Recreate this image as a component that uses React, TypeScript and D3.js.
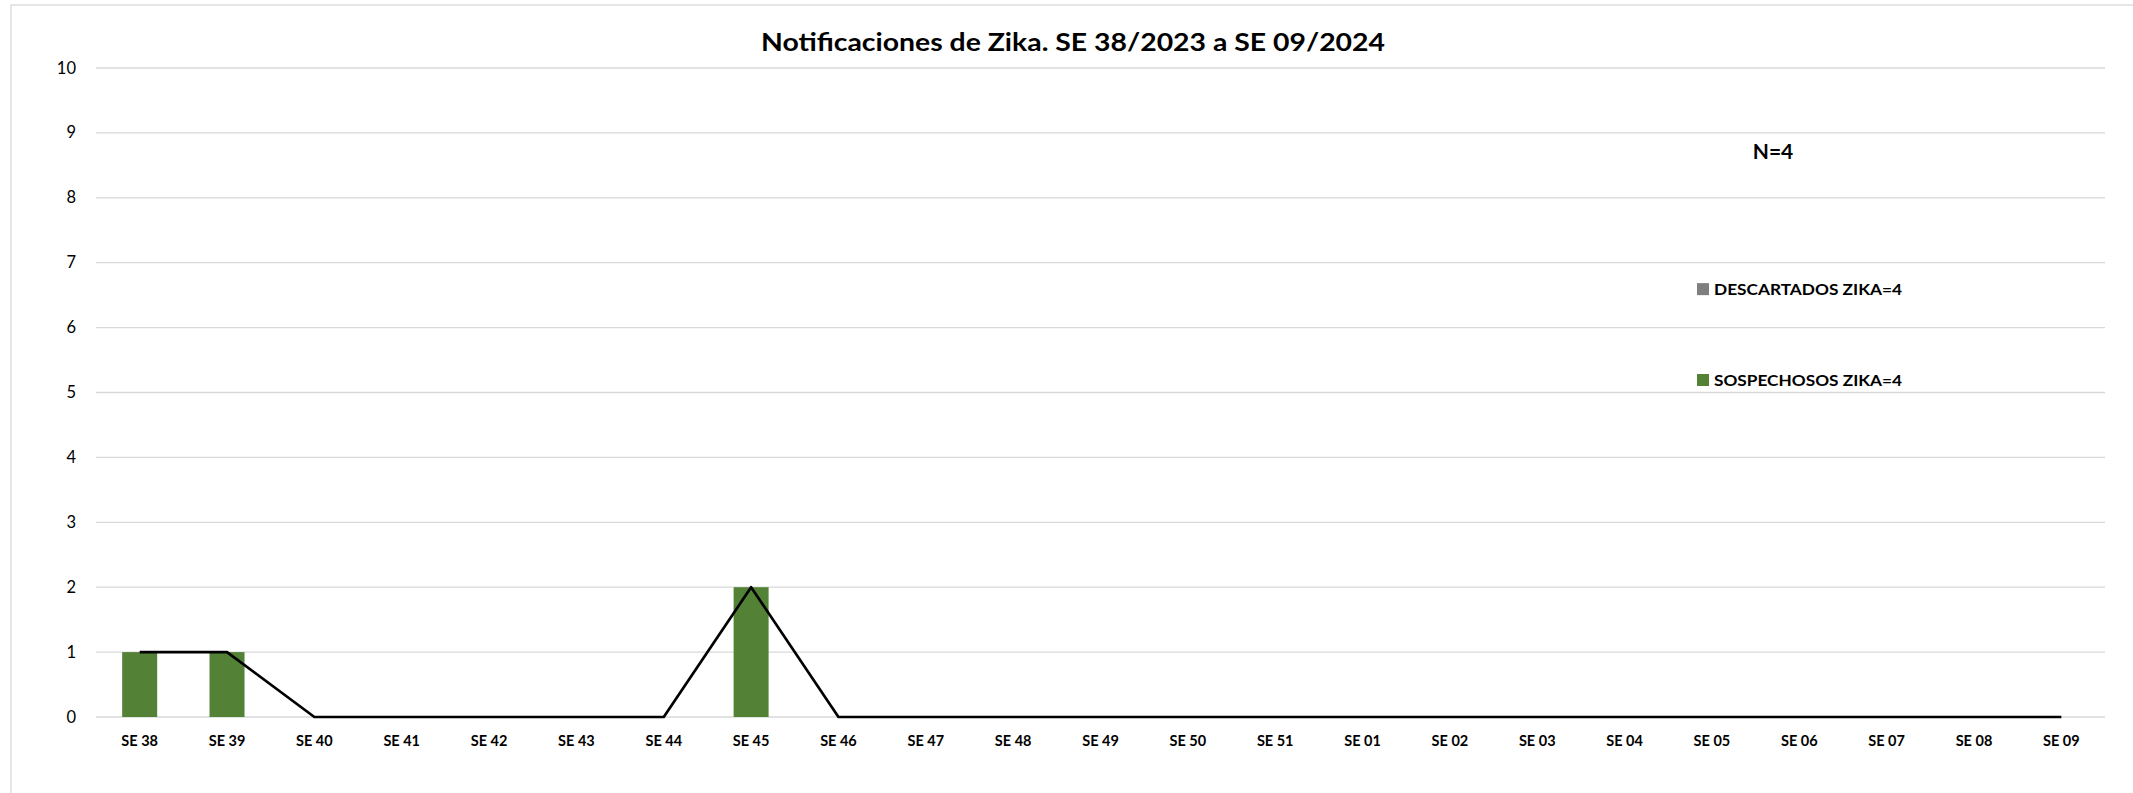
import React from "react";
import { scaleBand, scaleLinear, line } from "d3";

const weeks = [
  "SE 38", "SE 39", "SE 40", "SE 41", "SE 42", "SE 43", "SE 44", "SE 45",
  "SE 46", "SE 47", "SE 48", "SE 49", "SE 50", "SE 51", "SE 01", "SE 02",
  "SE 03", "SE 04", "SE 05", "SE 06", "SE 07", "SE 08", "SE 09",
];
// bars: sospechosos
const sospechosos = [1, 1, 0, 0, 0, 0, 0, 2, 0, 0, 0, 0, 0, 0, 0, 0, 0, 0, 0, 0, 0, 0, 0];
// black line: total notifications
const total = [1, 1, 0, 0, 0, 0, 0, 2, 0, 0, 0, 0, 0, 0, 0, 0, 0, 0, 0, 0, 0, 0, 0];
const yTicks = [0, 1, 2, 3, 4, 5, 6, 7, 8, 9, 10];
const legendItems = [
  { label: "DESCARTADOS ZIKA=4", color: "#7f7f7f", value: 6.5 },
  { label: "SOSPECHOSOS ZIKA=4", color: "#538135", value: 5.1 },
];

const W = 2133;
const H = 793;
const font = "Lato, 'Open Sans', sans-serif";

export default function App() {
  const x = scaleBand<string>().domain(weeks).range([96, 2105]).paddingInner(0.6).paddingOuter(0.3);
  const xc = (w: string) => x(w)! + x.bandwidth() / 2;
  const y = scaleLinear().domain([0, 10]).range([717, 68]);

  const path = line<number>()
    .x((_, i) => xc(weeks[i]))
    .y((d) => y(d))(total);

  return (
    <svg width={W} height={H} style={{ position: "absolute", left: 0, top: 0, background: "#fff" }} fontFamily={font}>
      <rect x={11} y={5} width={W + 10} height={H + 10} fill="#fff" stroke="#d9d9d9" strokeWidth={1.3} />
      <text x={1073} y={51} textAnchor="middle" fontSize={25} fontWeight="bold" fill="#000" textLength={624} lengthAdjust="spacingAndGlyphs">
        Notificaciones de Zika. SE 38/2023 a SE 09/2024
      </text>
      {yTicks.map((t) => (
        <g key={t}>
          <line x1={96} x2={2105} y1={y(t)} y2={y(t)} stroke="#d9d9d9" strokeWidth={1.3} />
          <text x={76} y={y(t) + 5.5} textAnchor="end" fontSize={16.5} fill="#000">
            {t}
          </text>
        </g>
      ))}
      {weeks.map((w, i) => (
        <g key={w}>
          {sospechosos[i] > 0 && (
            <rect x={xc(w) - 17.5} y={y(sospechosos[i])} width={35} height={y(0) - y(sospechosos[i])} fill="#538135" />
          )}
          <text x={xc(w)} y={746} textAnchor="middle" fontSize={14.5} fontWeight="bold" fill="#000">
            {w}
          </text>
        </g>
      ))}
      <path d={path ?? ""} fill="none" stroke="#000" strokeWidth={2.7} strokeLinejoin="round" />
      <text x={1773} y={159} textAnchor="middle" fontSize={21} fontWeight="bold" fill="#000">
        N=4
      </text>
      {legendItems.map((l) => (
        <g key={l.label}>
          <rect x={1697} y={y(l.value) - 6 - 6} width={12} height={12} fill={l.color} />
          <text x={1714} y={y(l.value)} fontSize={16} fontWeight="bold" fill="#000" textLength={188} lengthAdjust="spacingAndGlyphs">
            {l.label}
          </text>
        </g>
      ))}
    </svg>
  );
}
